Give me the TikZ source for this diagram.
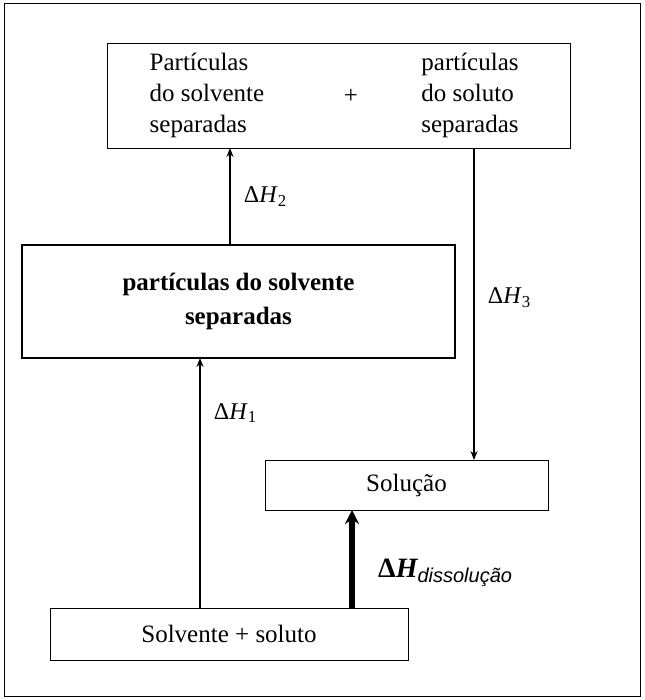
\documentclass[tikz,border=0pt]{standalone}
\usepackage{fontspec}
\setmainfont{Liberation Serif}
\newfontfamily\timesf{Liberation Serif}
\newfontfamily\sansf{Liberation Sans}
\usetikzlibrary{arrows.meta}
\tikzset{
  stepbox/.style={draw, thick, inner sep=0pt},
  flow/.style={-{Stealth[length=9pt,width=7pt]}, line width=1.2pt},
  dhlab/.style={font=\fontsize{24}{28}\selectfont},
}
\newcommand{\dH}[1]{Δ\textit{H}\textsubscript{#1}}
\begin{document}
\begin{tikzpicture}[x=1pt,y=-1pt]
 	\draw[line width=1pt] (4,4) rectangle (640,696);
 	\useasboundingbox (0,0) rectangle (644,700);
 	% boxes
 	\node[stepbox, minimum width=463pt, minimum height=105pt] (top) at (338.5,95.5) {};
 	\node[stepbox, line width=1.2pt, minimum width=433pt, minimum height=113pt, align=center,
 	  font=\timesf\bfseries\fontsize{25}{34}\selectfont] (mid) at (238.5,301.5) {partículas do solvente\\separadas};
 	\node[stepbox, minimum width=283pt, minimum height=50pt, font=\fontsize{25}{28}\selectfont] (sol) at (406.5,485) {Solução};
 	\node[stepbox, minimum width=358pt, minimum height=52pt, font=\fontsize{25}{28}\selectfont] (bot) at (229,634) {Solvente + soluto};
 	\begin{scope}[font=\fontsize{25}{31}\selectfont]
	 	\node[align=left] (tl) at (207,95) {Partículas\\do solvente\\separadas};
	 	\node (plus) at (351,96) {+};
	 	\node[align=left] (tr) at (470,95) {partículas\\do soluto\\separadas};
 	\end{scope}
 	% arrows
 	\coordinate (a2s) at (230,245);
 	\coordinate (a2e) at (230,148);
 	\draw[flow] (a2s) -- (a2e) node[pos=0.5, right=10pt, dhlab] {\dH{2}};
 	\coordinate (a1s) at (200,608);
 	\coordinate (a1e) at (200,358);
 	\draw[flow] (a1s) -- (a1e) node[pos=0.78, right=10pt, dhlab] {\dH{1}};
 	\coordinate (a3s) at (474,148);
 	\coordinate (a3e) at (474,460);
 	\draw[flow] (a3s) -- (a3e) node[pos=0.48, right=10pt, dhlab] {\dH{3}};
 	\coordinate (ads) at (352,608);
 	\coordinate (ade) at (352,510);
 	\draw[-{Stealth[length=14pt,width=14pt]}, line width=6pt] (ads) -- (ade);
 	\node[anchor=west, inner sep=0pt] (dlab) at (378,573)
 	  {\timesf\bfseries\fontsize{28}{30}\selectfont Δ\itshape H\sansf\mdseries\itshape\fontsize{20}{24}\selectfont\raisebox{-5pt}{dissolução}};
\end{tikzpicture}
\end{document}
